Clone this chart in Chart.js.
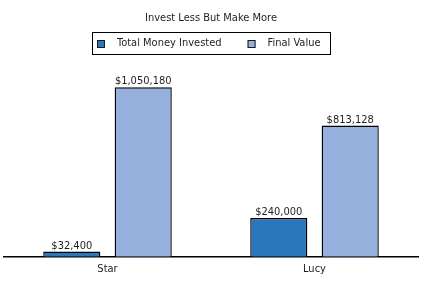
<!DOCTYPE html>
<html>
<head>
<meta charset="utf-8">
<script src="https://cdn.jsdelivr.net/npm/chart.js@4/dist/chart.umd.min.js"></script>
<style>
html,body{margin:0;padding:0;background:#fff;}
#wrap{width:437px;height:282px;position:relative;}
</style>
</head>
<body>
<div id="wrap"><canvas id="c" width="437" height="282"></canvas></div>
<script>
const titleText = 'Invest Less But Make More';
const categories = ['Star', 'Lucy'];
const seriesNames = ['Total Money Invested', 'Final Value'];
const moneyInvested = [32400, 240000];
const finalValue = [1050180, 813128];
const yMax = 1200000;

const FONT = "'DejaVu Sans Condensed', 'Liberation Sans Narrow', 'Arial Narrow', sans-serif";
const TEXT = '#1e1e1e';
const colors = ['#2a77bd', '#95b0dc'];
const FS = 11;

function fmt(v){ return '$' + v.toLocaleString('en-US'); }

const valueLabels = {
  id: 'valueLabels',
  afterDatasetsDraw(chart){
    const ctx = chart.ctx;
    ctx.save();
    ctx.font = FS + 'px ' + FONT;
    ctx.fillStyle = TEXT;
    ctx.textAlign = 'center';
    ctx.textBaseline = 'alphabetic';
    chart.data.datasets.forEach((ds, i) => {
      chart.getDatasetMeta(i).data.forEach((bar, j) => {
        ctx.fillText(fmt(ds.data[j]), bar.x, bar.y - 3);
      });
    });
    ctx.restore();
  }
};

const boxedLegend = {
  id: 'boxedLegend',
  afterDraw(chart){
    const ctx = chart.ctx;
    const ca = chart.chartArea;
    ctx.save();
    ctx.font = FS + 'px ' + FONT;
    const sq = 8, gapBT = 12, gapItems = 26, padL = 5, padR = 9;
    const ws = chart.data.datasets.map(d => ctx.measureText(d.label).width);
    let total = padL + padR;
    ws.forEach((w, i) => { total += sq + gapBT + w + (i ? gapItems : 0); });
    const boxH = 22, top = 32;
    const left = Math.round((ca.left + ca.right) / 2 - total / 2);
    ctx.strokeStyle = '#000';
    ctx.lineWidth = 1;
    ctx.strokeRect(left + 0.5, top + 0.5, Math.round(total), boxH);
    let x = left + padL;
    const cy = top + boxH / 2 + 0.5;
    chart.data.datasets.forEach((d, i) => {
      if (i) x += gapItems;
      ctx.fillStyle = d.backgroundColor;
      ctx.fillRect(x, Math.round(cy - sq / 2), sq, sq);
      ctx.strokeStyle = '#1a1a1a';
      ctx.strokeRect(x + 0.5, Math.round(cy - sq / 2) + 0.5, sq - 1, sq - 1);
      x += sq + gapBT;
      ctx.fillStyle = TEXT;
      ctx.textBaseline = 'middle';
      ctx.textAlign = 'left';
      ctx.fillText(d.label, x, cy);
      x += ws[i];
    });
    ctx.restore();
  }
};

new Chart(document.getElementById('c'), {
  type: 'bar',
  data: {
    labels: categories,
    datasets: [
      { label: seriesNames[0], data: moneyInvested, backgroundColor: colors[0], borderColor: '#000', borderWidth: 1.4 },
      { label: seriesNames[1], data: finalValue, backgroundColor: colors[1], borderColor: '#000', borderWidth: 1.4 }
    ]
  },
  options: {
    responsive: false,
    animation: false,
    devicePixelRatio: 1,
    categoryPercentage: 0.69,
    barPercentage: 0.8,
    layout: { padding: { left: 4, right: 19, top: 0, bottom: 0 } },
    plugins: {
      legend: { display: false },
      tooltip: { enabled: false },
      title: {
        display: true,
        text: titleText,
        color: TEXT,
        font: { family: FONT, size: FS, weight: 'normal' },
        padding: { top: 12, bottom: 38 }
      }
    },
    scales: {
      x: {
        grid: { display: false, drawTicks: false },
        border: { display: true, color: '#000', width: 1.5 },
        ticks: { color: TEXT, font: { family: FONT, size: FS }, padding: 6 }
      },
      y: {
        display: false,
        min: 0,
        max: yMax
      }
    }
  },
  plugins: [valueLabels, boxedLegend]
});
</script>
</body>
</html>
